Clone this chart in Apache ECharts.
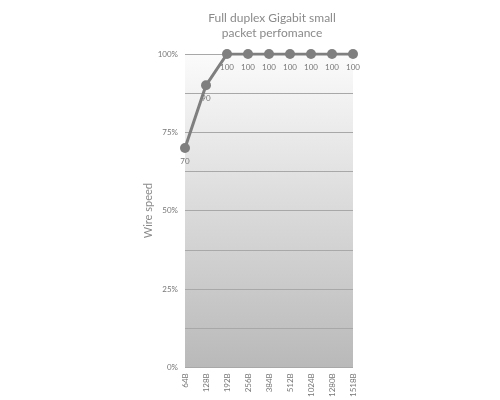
<!DOCTYPE html>
<html><head><meta charset="utf-8">
<script src="https://cdn.jsdelivr.net/npm/echarts@6/dist/echarts.min.js"></script>
<style>html,body{margin:0;padding:0;background:#fff}#c{width:500px;height:400px}</style>
</head><body><div id="c"></div>
<script>
const categories = ['64B','128B','192B','256B','384B','512B','1024B','1280B','1518B'];
const wireSpeed = [70, 90, 100, 100, 100, 100, 100, 100, 100];
const titleText = 'Full duplex Gigabit small\npacket perfomance';
const yAxisName = 'Wire speed';

const chart = echarts.init(document.getElementById('c'));
chart.setOption({
  animation: false,
  title: {
    text: titleText, left: 267, top: 6, textAlign: 'center',
    textStyle: { color: '#8a8a8a', fontSize: 12, fontWeight: 'normal', fontFamily: 'Lato', lineHeight: 15 }
  },
  grid: {
    left: 185, right: 147, top: 54, bottom: 32, show: true, borderWidth: 0,
    backgroundColor: new echarts.graphic.LinearGradient(0, 0, 0, 1, [
      { offset: 0, color: '#fbfbfb' }, { offset: 1, color: '#b9b9b9' }
    ])
  },
  xAxis: {
    type: 'category', data: categories, boundaryGap: false,
    axisLine: { show: false }, axisTick: { show: false },
    axisLabel: { rotate: 90, color: '#777', fontSize: 8, fontFamily: 'Lato', margin: 6 }
  },
  yAxis: {
    type: 'value', min: 0, max: 100, interval: 12.5,
    name: yAxisName, nameLocation: 'middle', nameGap: 30,
    nameTextStyle: { color: '#8a8a8a', fontSize: 11, fontFamily: 'Lato' },
    axisLine: { show: false }, axisTick: { show: false },
    axisLabel: {
      color: '#777', fontSize: 8, fontFamily: 'Lato', margin: 7,
      formatter: v => (v % 25 === 0 ? v + '%' : '')
    },
    splitLine: { lineStyle: { color: '#a8a8a8', width: 1 } }
  },
  series: [{
    type: 'line', data: wireSpeed,
    lineStyle: { color: '#7f7f7f', width: 3 },
    itemStyle: { color: '#7f7f7f' },
    symbol: 'circle', symbolSize: 10,
    label: { show: true, position: 'bottom', distance: 4, color: '#777', fontSize: 8, fontFamily: 'Lato' }
  }]
});
</script></body></html>
